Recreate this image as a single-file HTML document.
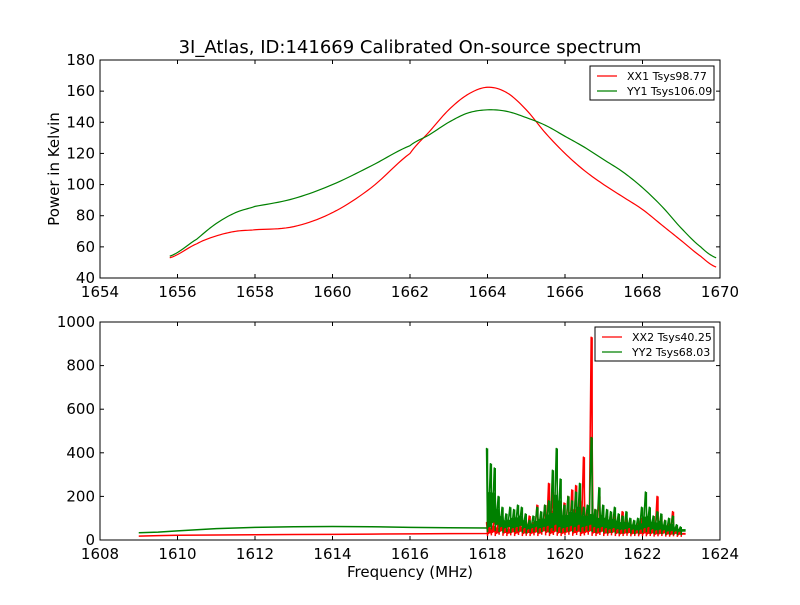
<!DOCTYPE html>
<html><head><meta charset="utf-8"><style>
body{margin:0;background:#fff;}
svg{font-family:"DejaVu Sans","Liberation Sans",sans-serif;}
</style></head><body>
<svg id="c" width="800" height="600">
<rect width="800" height="600" fill="#fff"/>
<text x="410" y="53" text-anchor="middle" font-size="18">3I_Atlas, ID:141669 Calibrated On-source spectrum</text>
<text x="59" y="169" text-anchor="middle" font-size="15" transform="rotate(-90 59 169)">Power in Kelvin</text>
<text x="410" y="577" text-anchor="middle" font-size="15">Frequency (MHz)</text>
</svg>
<script>
// Top panel data
const topFreq = [1655.8,1656.5,1657,1657.5,1658,1659,1660,1661,1662,1662.5,1663,1663.5,1664,1664.5,1665,1665.5,1666,1666.5,1667,1667.5,1668,1668.5,1669,1669.5,1669.9];
const xx1 = [53,62,67,70,71,73,82,98,120,134,148,158,162.5,159,148,133,120,109,100,92,84,74,64,54,47];
const yy1 = [54,65,75,82,86,91,100,112,125,132,140,146,148,147,143,138,131,124,116,108,98,86,72,60,53];
const topXTicks = [1654,1656,1658,1660,1662,1664,1666,1668,1670];
const topYTicks = [40,60,80,100,120,140,160,180];
// Bottom panel data
const baseFreq = [1609,1609.5,1610,1611,1612,1613,1614,1615,1616,1617,1618];
const xx2Base = [18,20,22,23,24,25,26,27,28,29,30];
const yy2Base = [33,36,42,52,58,61,62,61,58,56,55];
const noiseStart = 1618.0, noiseStep = 0.1;
const xx2Hi = [80,90,100,80,90,70,80,100,80,90,80,110,80,160,120,160,260,220,150,140,170,200,230,250,180,380,150,930,140,200,130,110,120,110,100,130,100,90,80,90,100,90,100,80,200,110,90,80,130,60,40];
const xx2Lo = [30,35,30,40,32,30,35,30,38,30,32,30,35,30,40,35,30,38,32,30,35,40,32,38,30,35,40,32,30,38,30,32,35,30,28,30,32,28,30,28,30,28,30,26,28,30,26,25,28,24,24];
const yy2Hi = [420,350,330,200,150,120,150,140,160,150,120,90,110,150,130,160,180,320,420,280,160,200,180,220,260,150,160,470,140,240,160,140,130,150,120,110,130,100,90,100,150,220,150,110,130,120,90,100,110,70,60];
const yy2Lo = [60,80,70,60,55,60,55,60,65,55,50,55,60,55,60,65,55,70,60,55,60,65,60,70,60,65,70,60,55,60,55,50,55,50,48,50,55,48,45,48,55,60,50,45,48,45,40,42,40,38,38];
const botXTicks = [1608,1610,1612,1614,1616,1618,1620,1622,1624];
const botYTicks = [0,200,400,600,800,1000];

const svg = document.getElementById('c');
const NS = 'http://www.w3.org/2000/svg';
function mk(tag, attrs, parent){const e=document.createElementNS(NS,tag);for(const k in attrs)e.setAttribute(k,attrs[k]);(parent||svg).appendChild(e);return e;}
const L=100,R=720;
function scale(d0,d1,r0,r1){return v=>r0+(v-d0)/(d1-d0)*(r1-r0);}

function panel(top,bot,xd,yd,xt,yt,name){
  const g = mk('g',{});
  
  
  const x=scale(xd[0],xd[1],L,R), y=scale(yd[0],yd[1],bot,top);
  xt.forEach(t=>{
    const px=x(t);
    mk('line',{x1:px,x2:px,y1:bot,y2:bot-4,stroke:'#000'},g);
    mk('line',{x1:px,x2:px,y1:top,y2:top+4,stroke:'#000'},g);
    const tx=mk('text',{x:px,y:bot+19,'text-anchor':'middle','font-size':15},g);
    tx.textContent=t;
    
    
  });
  yt.forEach(t=>{
    const py=y(t);
    mk('line',{x1:L,x2:L+4,y1:py,y2:py,stroke:'#000'},g);
    mk('line',{x1:R,x2:R-4,y1:py,y2:py,stroke:'#000'},g);
    const tx=mk('text',{x:L-5,y:py+5,'text-anchor':'end','font-size':15},g);
    tx.textContent=t;
    
    
  });
  return {g,x,y};
}
function line(g,xs,ys,x,y,color,name,w){
  const p=mk('polyline',{points:xs.map((v,i)=>x(v)+','+y(ys[i])).join(' '),fill:'none',stroke:color,'stroke-width':w||1.2,'stroke-linejoin':'round'},g);
  
  
}
function smooth(xs,ys){
  const ox=[],oy=[];
  for(let i=0;i<xs.length-1;i++){
    const y0=ys[Math.max(0,i-1)],y1=ys[i],y2=ys[i+1],y3=ys[Math.min(ys.length-1,i+2)];
    for(let s=0;s<10;s++){const t=s/10;
      ox.push(xs[i]+(xs[i+1]-xs[i])*t);
      oy.push(0.5*((2*y1)+(-y0+y2)*t+(2*y0-5*y1+4*y2-y3)*t*t+(-y0+3*y1-3*y2+y3)*t*t*t));}
  }
  ox.push(xs[xs.length-1]);oy.push(ys[ys.length-1]);return [ox,oy];
}
function legend(g,x0,y0,w,labels,colors,name){
  const lg=mk('g',{},g);
  
  
  mk('rect',{x:x0,y:y0,width:w,height:34,fill:'#fff',stroke:'#000','stroke-width':1},lg);
  labels.forEach((lab,i)=>{
    const yy=y0+10+i*15;
    mk('line',{x1:x0+7,x2:x0+27,y1:yy,y2:yy,stroke:colors[i],'stroke-width':1.2},lg);
    const t=mk('text',{x:x0+37,y:yy+4,'font-size':11},lg);
    t.textContent=lab;
    
    
  });
}

// top
const P1=panel(60,278,[1654,1670],[40,180],topXTicks,topYTicks,'top-panel');
let s=smooth(topFreq,xx1); line(P1.g,s[0],s[1],P1.x,P1.y,'#ff0000','xx1-line');
s=smooth(topFreq,yy1); line(P1.g,s[0],s[1],P1.x,P1.y,'#008000','yy1-line');
mk('rect',{x:L,y:60,width:R-L,height:218,fill:'none',stroke:'#000'},P1.g);
legend(P1.g,590,66,124,['XX1 Tsys98.77','YY1 Tsys106.09'],['#ff0000','#008000'],'top-legend');

// bottom
const P2=panel(322,540,[1608,1624],[0,1000],botXTicks,botYTicks,'bottom-panel');
function noisy(g,base,hi,lo,color,name){
  const xs=baseFreq.slice(), ys=base.slice();
  hi.forEach((v,i)=>{const f=noiseStart+i*noiseStep; xs.push(f-0.025,f+0.025); ys.push(v,lo[i]);});
  line(g,xs,ys,P2.x,P2.y,color,name,1.5);
  const bg=mk('g',{},g);
  
  
  hi.forEach((v,i)=>{
    const f=noiseStart+i*noiseStep;
    const nxt = i+1<hi.length ? hi[i+1] : v;
    const px=P2.x(f);
    mk('rect',{x:px-0.5,y:P2.y(Math.min(v,nxt)*0.55+lo[i]*0.45),width:P2.x(f+noiseStep)-px+1,height:P2.y(lo[i])-P2.y(Math.min(v,nxt)*0.55+lo[i]*0.45),fill:color},bg);
    mk('line',{x1:px,x2:px,y1:P2.y(lo[i]*0.6),y2:P2.y(v),stroke:color,'stroke-width':1.5},bg);
  });
}
noisy(P2.g,xx2Base,xx2Hi,xx2Lo,'#ff0000','xx2-line');
noisy(P2.g,yy2Base,yy2Hi,yy2Lo,'#008000','yy2-line');
mk('rect',{x:L,y:322,width:R-L,height:218,fill:'none',stroke:'#000'},P2.g);
legend(P2.g,595,327,119,['XX2 Tsys40.25','YY2 Tsys68.03'],['#ff0000','#008000'],'bottom-legend');
</script>
</body></html>
